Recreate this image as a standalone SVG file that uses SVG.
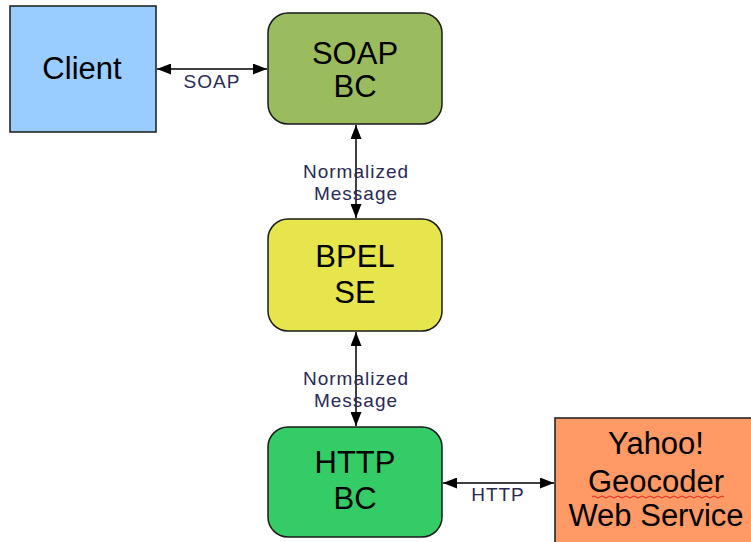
<svg xmlns="http://www.w3.org/2000/svg" width="751" height="542" viewBox="0 0 751 542">
  <style>
    .box { stroke: #1a1a1a; stroke-width: 1.5; }
    .name { font-family: "Liberation Sans", Arial, sans-serif; font-size: 31px; fill: #000; text-anchor: middle; }
    .lbl { font-family: "Liberation Sans", Arial, sans-serif; font-size: 19px; letter-spacing: 1px; fill: #2a2a55; text-anchor: middle; }
    .wire { stroke: #000; stroke-width: 1.5; fill: none; marker-start: url(#head); marker-end: url(#head); }
  </style>
  <defs>
    <marker id="head" viewBox="0 0 14 11" refX="14" refY="5.5" markerWidth="14" markerHeight="11" markerUnits="userSpaceOnUse" orient="auto-start-reverse">
      <path d="M0,0 L14,5.5 L0,11 Z" fill="#000"/>
    </marker>
  </defs>
  <rect width="751" height="542" fill="#fff"/>

  <g id="connectors">
    <line class="wire" x1="157" y1="69" x2="267" y2="69"/>
    <line class="wire" x1="356" y1="125" x2="356" y2="218"/>
    <line class="wire" x1="356" y1="332" x2="356" y2="426"/>
    <line class="wire" x1="443" y1="483" x2="554" y2="483"/>
    <text class="lbl" x="212" y="88">SOAP</text>
    <text class="lbl" x="356" y="178">Normalized</text>
    <text class="lbl" x="356" y="200">Message</text>
    <text class="lbl" x="356" y="385">Normalized</text>
    <text class="lbl" x="356" y="407">Message</text>
    <text class="lbl" x="498" y="501">HTTP</text>
  </g>

  <g id="client">
    <rect class="box" x="10" y="6" width="146" height="126" fill="#99ccff"/>
    <text class="name" x="82" y="79">Client</text>
  </g>

  <g id="soap-bc">
    <rect class="box" x="268" y="13" width="174" height="111" rx="20" ry="20" fill="#9bbb5f"/>
    <text class="name" x="355" y="64">SOAP</text>
    <text class="name" x="355" y="97">BC</text>
  </g>

  <g id="bpel-se">
    <rect class="box" x="268" y="219" width="174" height="112" rx="20" ry="20" fill="#e6e64c"/>
    <text class="name" x="355" y="267">BPEL</text>
    <text class="name" x="355" y="303">SE</text>
  </g>

  <g id="http-bc">
    <rect class="box" x="268" y="427" width="174" height="110" rx="20" ry="20" fill="#33cc66"/>
    <text class="name" x="355" y="473">HTTP</text>
    <text class="name" x="355" y="509">BC</text>
  </g>

  <g id="yahoo-geocoder">
    <rect class="box" x="555" y="418" width="210" height="140" fill="#ff9966"/>
    <text class="name" x="656" y="454">Yahoo!</text>
    <text class="name" x="656" y="492">Geocoder</text>
    <path d="M592,497 q2,-2 4,0 t4,0 t4,0 t4,0 t4,0 t4,0 t4,0 t4,0 t4,0 t4,0 t4,0 t4,0 t4,0 t4,0 t4,0 t4,0 t4,0 t4,0 t4,0 t4,0 t4,0 t4,0 t4,0 t4,0 t4,0 t4,0 t4,0 t4,0 t4,0 t4,0 t4,0 t4,0 t4,0" fill="none" stroke="#e02020" stroke-width="1"/>
    <text class="name" x="656" y="526">Web Service</text>
  </g>
</svg>
